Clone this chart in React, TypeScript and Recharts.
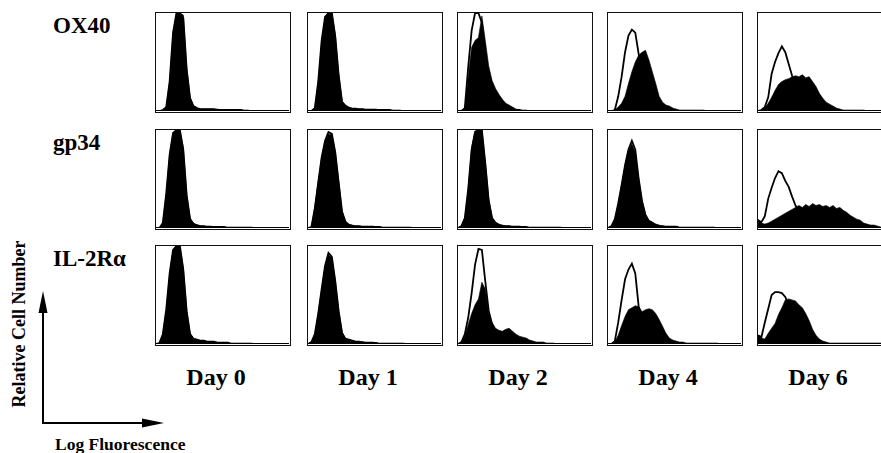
import React from 'react';
import { AreaChart, Area, XAxis, YAxis } from 'recharts';

// 40 log-fluorescence channels per histogram
const BINS = [
  0, 1, 2, 3, 4, 5, 6, 7, 8, 9, 10, 11, 12, 13, 14, 15, 16, 17, 18, 19,
  20, 21, 22, 23, 24, 25, 26, 27, 28, 29, 30, 31, 32, 33, 34, 35, 36, 37, 38, 39,
];

const DAYS = ['Day 0', 'Day 1', 'Day 2', 'Day 4', 'Day 6'];
const MARKERS = ['OX40', 'gp34', 'IL-2R\u03B1'];

// relative cell number (% of panel height), one array per day
const OX40_STAINED = [
  [0, 0, 1, 4, 30, 80, 100, 100, 98, 45, 14, 5, 3, 2, 2, 2, 2, 2, 2, 1, 1, 1, 1, 1, 1, 1, 1, 1, 0, 0, 0, 0, 0, 0, 0, 0, 0, 0, 0, 0],
  [0, 0, 3, 30, 70, 95, 100, 100, 78, 38, 10, 6, 4, 3, 3, 2, 2, 2, 2, 2, 2, 1, 1, 1, 1, 1, 1, 1, 0, 0, 0, 0, 0, 0, 0, 0, 0, 0, 0, 0],
  [0, 0, 2, 35, 65, 72, 75, 97, 72, 46, 31, 23, 17, 12, 8, 6, 4, 2, 1, 1, 1, 0, 0, 0, 0, 0, 0, 0, 0, 0, 0, 0, 0, 0, 0, 0, 0, 0, 0, 0],
  [0, 0, 1, 4, 8, 15, 28, 40, 50, 57, 60, 62, 52, 40, 28, 15, 9, 6, 5, 3, 2, 1, 1, 1, 1, 1, 1, 1, 1, 0, 0, 0, 0, 0, 0, 0, 0, 0, 0, 0],
  [0, 1, 3, 8, 14, 21, 27, 30, 32, 33, 35, 36, 35, 37, 34, 35, 30, 25, 18, 13, 9, 7, 5, 3, 2, 1, 1, 1, 1, 1, 1, 1, 0, 0, 0, 0, 0, 0, 0, 0],
];
const OX40_CONTROL = [
  [0, 0, 1, 4, 30, 80, 100, 100, 95, 42, 13, 5, 3, 2, 2, 2, 2, 2, 1, 1, 1, 1, 1, 1, 1, 1, 0, 0, 0, 0, 0, 0, 0, 0, 0, 0, 0, 0, 0, 0],
  [0, 0, 3, 30, 72, 96, 100, 100, 76, 36, 9, 5, 3, 2, 2, 2, 2, 1, 1, 1, 1, 1, 1, 1, 1, 0, 0, 0, 0, 0, 0, 0, 0, 0, 0, 0, 0, 0, 0, 0],
  [0, 0, 3, 45, 82, 100, 100, 90, 60, 35, 20, 12, 8, 5, 3, 2, 1, 1, 1, 0, 0, 0, 0, 0, 0, 0, 0, 0, 0, 0, 0, 0, 0, 0, 0, 0, 0, 0, 0, 0],
  [0, 0, 1, 15, 35, 60, 77, 83, 80, 58, 40, 25, 15, 8, 4, 2, 1, 1, 0, 0, 0, 0, 0, 0, 0, 0, 0, 0, 0, 0, 0, 0, 0, 0, 0, 0, 0, 0, 0, 0],
  [0, 1, 4, 14, 38, 50, 59, 66, 60, 48, 36, 26, 18, 12, 7, 4, 2, 1, 0, 0, 0, 0, 0, 0, 0, 0, 0, 0, 0, 0, 0, 0, 0, 0, 0, 0, 0, 0, 0, 0],
];

const GP34_STAINED = [
  [0, 0, 5, 35, 75, 97, 100, 100, 82, 35, 10, 5, 3, 2, 2, 2, 2, 1, 1, 1, 1, 1, 1, 1, 1, 1, 1, 1, 1, 0, 0, 0, 0, 0, 0, 0, 0, 0, 0, 0],
  [0, 1, 22, 48, 72, 88, 96, 95, 78, 48, 18, 7, 4, 3, 2, 2, 2, 2, 2, 2, 1, 1, 1, 1, 1, 1, 1, 1, 1, 1, 1, 0, 0, 0, 0, 0, 0, 0, 0, 0],
  [0, 2, 10, 40, 82, 99, 100, 100, 68, 30, 11, 6, 4, 3, 2, 2, 2, 2, 2, 1, 1, 1, 1, 1, 1, 1, 1, 1, 1, 1, 1, 0, 0, 0, 0, 0, 0, 0, 0, 0],
  [0, 2, 9, 25, 44, 64, 79, 86, 77, 50, 28, 14, 8, 6, 4, 3, 2, 2, 2, 2, 2, 1, 1, 1, 1, 1, 1, 1, 1, 1, 1, 1, 0, 0, 0, 0, 0, 0, 0, 0],
  [9, 5, 4, 5, 7, 9, 11, 13, 15, 17, 19, 21, 23, 21, 24, 22, 25, 23, 24, 22, 23, 21, 23, 20, 21, 18, 16, 13, 11, 9, 8, 5, 4, 3, 3, 2, 1, 1, 1, 1],
];
const GP34_CONTROL = [
  [0, 0, 5, 35, 75, 97, 100, 100, 80, 33, 9, 4, 3, 2, 2, 1, 1, 1, 1, 1, 1, 0, 0, 0, 0, 0, 0, 0, 0, 0, 0, 0, 0, 0, 0, 0, 0, 0, 0, 0],
  [0, 1, 20, 46, 72, 89, 98, 96, 77, 46, 16, 6, 3, 2, 2, 2, 1, 1, 1, 1, 1, 1, 0, 0, 0, 0, 0, 0, 0, 0, 0, 0, 0, 0, 0, 0, 0, 0, 0, 0],
  [0, 2, 10, 40, 80, 98, 100, 100, 66, 28, 10, 5, 3, 2, 2, 2, 1, 1, 1, 1, 1, 0, 0, 0, 0, 0, 0, 0, 0, 0, 0, 0, 0, 0, 0, 0, 0, 0, 0, 0],
  [0, 2, 9, 25, 44, 64, 80, 89, 80, 50, 27, 13, 7, 5, 3, 2, 2, 1, 1, 1, 1, 0, 0, 0, 0, 0, 0, 0, 0, 0, 0, 0, 0, 0, 0, 0, 0, 0, 0, 0],
  [8, 6, 12, 30, 41, 51, 58, 56, 48, 42, 32, 23, 16, 10, 6, 4, 2, 1, 1, 0, 0, 0, 0, 0, 0, 0, 0, 0, 0, 0, 0, 0, 0, 0, 0, 0, 0, 0, 0, 0],
];

const IL2RA_STAINED = [
  [0, 1, 10, 35, 72, 96, 100, 100, 78, 35, 11, 6, 5, 4, 4, 3, 3, 3, 2, 2, 2, 2, 1, 1, 1, 1, 1, 1, 1, 0, 0, 0, 0, 0, 0, 0, 0, 0, 0, 0],
  [0, 2, 10, 31, 56, 79, 91, 88, 65, 35, 12, 6, 5, 4, 3, 3, 2, 2, 2, 2, 1, 1, 1, 1, 1, 1, 1, 1, 1, 0, 0, 0, 0, 0, 0, 0, 0, 0, 0, 0],
  [0, 1, 8, 20, 31, 40, 46, 63, 56, 31, 22, 16, 14, 13, 15, 16, 13, 10, 8, 7, 6, 4, 3, 2, 2, 2, 1, 1, 1, 0, 0, 0, 0, 0, 0, 0, 0, 0, 0, 0],
  [0, 0, 2, 9, 19, 28, 35, 37, 39, 38, 33, 35, 36, 35, 31, 25, 18, 11, 6, 4, 3, 2, 2, 1, 1, 1, 1, 1, 1, 1, 1, 1, 1, 0, 0, 0, 0, 0, 0, 0],
  [9, 6, 5, 11, 16, 21, 30, 37, 45, 46, 45, 44, 40, 37, 31, 24, 15, 9, 5, 3, 2, 1, 1, 1, 1, 1, 1, 1, 1, 1, 1, 1, 1, 1, 1, 1, 1, 1, 1, 1],
];
const IL2RA_CONTROL = [
  [0, 1, 10, 35, 72, 96, 100, 100, 76, 33, 10, 5, 4, 3, 3, 2, 2, 2, 1, 1, 1, 1, 0, 0, 0, 0, 0, 0, 0, 0, 0, 0, 0, 0, 0, 0, 0, 0, 0, 0],
  [0, 2, 10, 31, 56, 80, 93, 89, 64, 33, 11, 5, 4, 3, 2, 2, 2, 1, 1, 1, 1, 0, 0, 0, 0, 0, 0, 0, 0, 0, 0, 0, 0, 0, 0, 0, 0, 0, 0, 0],
  [0, 2, 10, 27, 52, 81, 97, 96, 64, 34, 20, 12, 8, 6, 4, 3, 2, 2, 1, 1, 0, 0, 0, 0, 0, 0, 0, 0, 0, 0, 0, 0, 0, 0, 0, 0, 0, 0, 0, 0],
  [0, 0, 3, 22, 45, 66, 76, 82, 72, 38, 28, 20, 12, 7, 4, 2, 1, 1, 0, 0, 0, 0, 0, 0, 0, 0, 0, 0, 0, 0, 0, 0, 0, 0, 0, 0, 0, 0, 0, 0],
  [9, 7, 22, 36, 50, 53, 53, 52, 48, 40, 30, 20, 12, 7, 4, 2, 1, 0, 0, 0, 0, 0, 0, 0, 0, 0, 0, 0, 0, 0, 0, 0, 0, 0, 0, 0, 0, 0, 0, 0],
];

const STAINED = [OX40_STAINED, GP34_STAINED, IL2RA_STAINED];
const CONTROL = [OX40_CONTROL, GP34_CONTROL, IL2RA_CONTROL];

const COL_X = [155, 307, 457, 607, 757];
const ROW_Y = [12, 129, 245];
const PANEL_W = 136;
const PANEL_H = 101;
const BORDER = 1.5;
const FONT = '"Liberation Serif", "Times New Roman", serif';

function Histogram({ stained, control }: { stained: number[]; control: number[] }) {
  const data = BINS.map((b, i) => ({ bin: b, stained: stained[i], control: control[i] }));
  return (
    <AreaChart
      width={PANEL_W - 2 * BORDER}
      height={PANEL_H - 2 * BORDER}
      data={data}
      margin={{ top: 0, right: 0, left: 0, bottom: 0 }}
    >
      <XAxis dataKey="bin" type="number" domain={[0, 39]} hide />
      <YAxis type="number" domain={[0, 100]} allowDataOverflow hide />
      <Area
        type="linear"
        dataKey="control"
        stroke="#000"
        strokeWidth={1.8}
        fill="none"
        isAnimationActive={false}
        dot={false}
        activeDot={false}
      />
      <Area
        type="linear"
        dataKey="stained"
        stroke="#000"
        strokeWidth={0.6}
        fill="#000"
        fillOpacity={1}
        isAnimationActive={false}
        dot={false}
        activeDot={false}
      />
    </AreaChart>
  );
}

export default function App() {
  return (
    <div
      style={{
        position: 'absolute',
        left: 0,
        top: 0,
        width: 881,
        height: 453,
        overflow: 'hidden',
        background: '#fff',
      }}
    >
      {MARKERS.map((m, r) =>
        DAYS.map((d, c) => (
          <div
            key={`${m}-${d}`}
            style={{
              position: 'absolute',
              left: COL_X[c],
              top: ROW_Y[r],
              width: PANEL_W,
              height: PANEL_H,
              boxSizing: 'border-box',
              border: `${BORDER}px solid #111`,
              overflow: 'hidden',
            }}
          >
            <Histogram stained={STAINED[r][c]} control={CONTROL[r][c]} />
          </div>
        ))
      )}

      {/* labels and axis arrows */}
      <svg
        width={881}
        height={453}
        style={{ position: 'absolute', left: 0, top: 0, pointerEvents: 'none' }}
      >
        <g fontFamily={FONT} fontWeight="bold" fill="#000">
          {MARKERS.map((m, r) => (
            <text key={m} x={53} y={ROW_Y[r] + 21} fontSize={23}>
              {m}
            </text>
          ))}
          {DAYS.map((d, c) => (
            <text key={d} x={COL_X[c] + PANEL_W / 2 - 7} y={385} fontSize={24} textAnchor="middle">
              {d}
            </text>
          ))}
          <text x={25} y={324} fontSize={18} textAnchor="middle" transform="rotate(-90 25 324)">
            Relative Cell Number
          </text>
          <text x={55} y={450} fontSize={17.5}>
            Log Fluorescence
          </text>
        </g>
        <line x1={43} y1={424} x2={43} y2={305} stroke="#000" strokeWidth={2} />
        <polygon points="43,291 38.5,313 47.5,313" fill="#000" />
        <line x1={42} y1={423} x2={150} y2={423} stroke="#000" strokeWidth={2} />
        <polygon points="164,423 142,418.5 142,427.5" fill="#000" />
      </svg>
    </div>
  );
}
